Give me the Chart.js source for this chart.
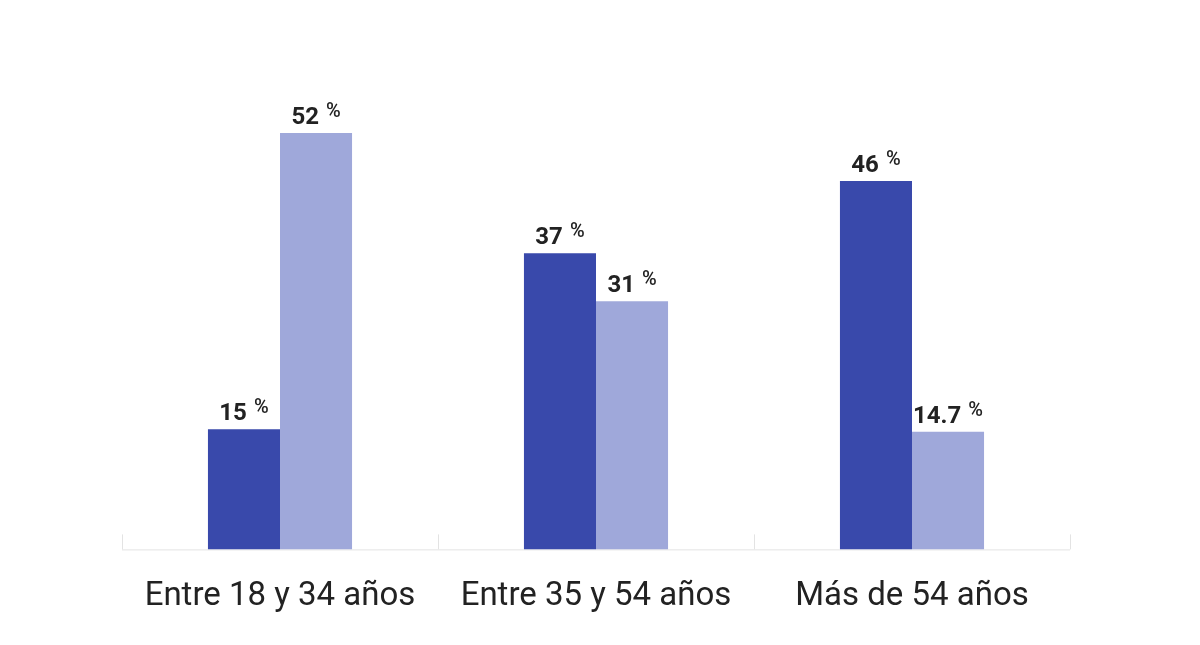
<!DOCTYPE html>
<html>
<head>
<meta charset="utf-8">
<script src="https://cdn.jsdelivr.net/npm/chart.js@4"></script>
<style>
  html, body { margin: 0; padding: 0; background: #fff; }
  #wrap { width: 1200px; height: 645px; }
</style>
</head>
<body>
<div id="wrap"><canvas id="ageChart"></canvas></div>
<script>
/* --------------- Data --------------------- */
const categories = ["Entre 18 y 34 años", "Entre 35 y 54 años", "Más de 54 años"];
const seriesA = [15, 37, 46];
const seriesB = [52, 31, 14.7];
const seriesColors = ["#3949AB", "#9FA8DA"];

/* --------------- Labels above the bars --------------------- */
const barLabels = {
  id: "barLabels",
  afterDatasetsDraw(chart) {
    const ctx = chart.ctx;
    ctx.save();
    ctx.fillStyle = "#222222";
    ctx.textBaseline = "alphabetic";
    chart.data.datasets.forEach((ds, di) => {
      chart.getDatasetMeta(di).data.forEach((bar, i) => {
        const num = String(ds.data[i]);
        ctx.font = "bold 24px Roboto";
        const wNum = ctx.measureText(num).width;
        ctx.font = "500 20px Roboto";
        const wPct = ctx.measureText("%").width;
        const gap = 7;
        const start = bar.x - (wNum + gap + wPct) / 2;
        const base = bar.y - 9;
        ctx.textAlign = "left";
        ctx.font = "bold 24px Roboto";
        ctx.fillText(num, start, base);
        ctx.font = "500 20px Roboto";
        ctx.fillText("%", start + wNum + gap, base - 7);
      });
    });
    ctx.restore();
  }
};

/* --------------- Short separators on the axis --------------------- */
const separators = {
  id: "separators",
  beforeDatasetsDraw(chart) {
    const ctx = chart.ctx;
    const x = chart.scales.x;
    const bottom = chart.chartArea.bottom;
    const step = x.width / categories.length;
    ctx.save();
    ctx.strokeStyle = "#e3e3e3";
    ctx.lineWidth = 1;
    ctx.beginPath();
    for (let i = 0; i <= categories.length; i++) {
      const px = Math.round(x.left + i * step) + 0.5;
      ctx.moveTo(px, bottom - 15);
      ctx.lineTo(px, bottom);
    }
    ctx.moveTo(x.left, bottom + 0.5);
    ctx.lineTo(x.right, bottom + 0.5);
    ctx.stroke();
    ctx.restore();
  }
};

/* --------------- Chart --------------------- */
new Chart(document.getElementById("ageChart"), {
  type: "bar",
  plugins: [separators, barLabels],
  data: {
    labels: categories,
    datasets: [
      { data: seriesA, backgroundColor: seriesColors[0], categoryPercentage: 0.456, barPercentage: 1 },
      { data: seriesB, backgroundColor: seriesColors[1], categoryPercentage: 0.456, barPercentage: 1 },
    ],
  },
  options: {
    responsive: true,
    maintainAspectRatio: false,
    animation: false,
    layout: { padding: { left: 122, right: 130, top: 69, bottom: 8 } },
    plugins: {
      legend: { display: false },
      tooltip: { enabled: false },
    },
    scales: {
      x: {
        grid: { display: false },
        border: { display: false },
        ticks: {
          color: "#222222",
          padding: 20,
          font: { family: "Roboto", size: 33 },
        },
      },
      y: {
        display: false,
        min: 0,
        max: 60,
      },
    },
  },
});
</script>
</body>
</html>
